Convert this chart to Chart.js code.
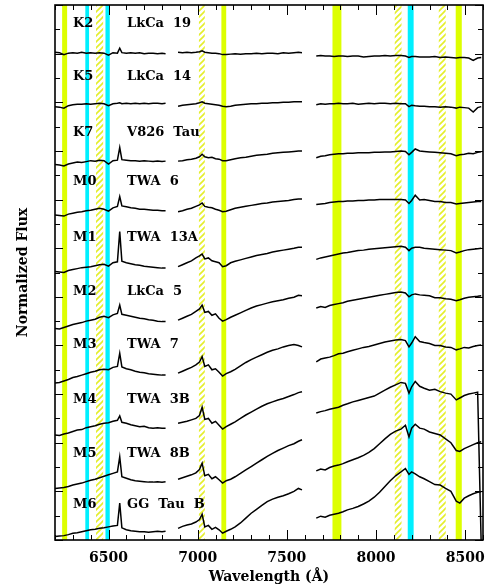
<!DOCTYPE html>
<html>
<head>
<meta charset="UTF-8">
<title>Spectra</title>
<script src="https://cdn.jsdelivr.net/npm/chart.js"></script>
<style>
  body { margin: 0; background: white; }
  #wrap { width: 497px; height: 588px; }
</style>
</head>
<body>
<div id="wrap"><canvas id="spec"></canvas></div>
<script>
// wavelength grids (Angstrom) for the three spectral segments
const waveLeft = [6200,6225,6250,6275,6300,6325,6350,6375,6400,6425,6450,6475,6500,6525,6550,6563,6575,6600,6625,6650,6675,6700,6725,6750,6775,6800,6820];
const waveMid = [6890,6915,6940,6965,6990,7010,7025,7040,7060,7080,7100,7120,7140,7160,7185,7210,7240,7270,7300,7330,7360,7390,7420,7450,7480,7510,7540,7565,7585];
const waveRight = [7665,7690,7715,7740,7765,7790,7815,7840,7870,7900,7930,7960,7990,8020,8050,8080,8110,8140,8165,8185,8200,8220,8245,8270,8300,8330,8360,8390,8420,8450,8470,8495,8520,8545,8570,8590];

const spTypes = ['K2','K5','K7','M0','M1','M2','M3','M4','M5','M6'];
const starNames = ['LkCa  19','LkCa  14','V826  Tau','TWA  6','TWA  13A','LkCa  5','TWA  7','TWA  3B','TWA  8B','GG  Tau  B'];
const offsets = [9,8,7,6,5,4,3,2,1,0];

// normalized flux, one row per star
const fluxLeft = [
  [1.03,1.02,0.98,1.01,1.02,1.01,1.03,1.01,1.02,1.01,1.02,1.01,0.97,1.02,1.01,1.11,1.02,1.01,1.02,1.01,1.02,1.00,1.01,1.01,1.00,1.01,1.00],
  [0.91,0.90,0.88,0.93,0.95,0.96,0.96,0.97,0.96,0.97,0.98,0.97,0.93,0.97,0.98,0.99,0.97,0.98,0.97,0.98,0.97,0.98,0.97,0.98,0.98,0.97,0.98],
  [0.72,0.71,0.69,0.73,0.75,0.77,0.76,0.78,0.80,0.79,0.81,0.80,0.73,0.80,0.81,1.07,0.82,0.81,0.80,0.80,0.79,0.80,0.79,0.78,0.79,0.78,0.79],
  [0.68,0.67,0.66,0.70,0.72,0.74,0.75,0.77,0.78,0.80,0.82,0.80,0.76,0.83,0.86,1.06,0.87,0.85,0.83,0.82,0.80,0.80,0.79,0.78,0.78,0.77,0.77],
  [0.52,0.51,0.50,0.54,0.56,0.58,0.60,0.61,0.62,0.64,0.66,0.67,0.63,0.70,0.72,1.34,0.73,0.70,0.68,0.66,0.65,0.63,0.62,0.61,0.60,0.59,0.59],
  [0.35,0.34,0.37,0.40,0.43,0.45,0.47,0.50,0.52,0.54,0.58,0.60,0.57,0.63,0.66,0.83,0.64,0.62,0.60,0.58,0.56,0.55,0.53,0.52,0.50,0.49,0.49],
  [0.23,0.24,0.27,0.30,0.34,0.36,0.39,0.42,0.45,0.47,0.50,0.51,0.50,0.55,0.57,0.84,0.56,0.52,0.50,0.47,0.45,0.44,0.42,0.41,0.40,0.39,0.39],
  [0.16,0.15,0.18,0.20,0.23,0.26,0.27,0.31,0.33,0.35,0.38,0.40,0.41,0.44,0.46,0.55,0.42,0.40,0.37,0.35,0.33,0.34,0.31,0.30,0.31,0.30,0.30],
  [0.06,0.07,0.08,0.10,0.13,0.15,0.17,0.20,0.23,0.25,0.28,0.31,0.34,0.37,0.40,0.71,0.30,0.27,0.24,0.22,0.21,0.20,0.19,0.19,0.20,0.19,0.20],
  [0.07,0.08,0.09,0.11,0.14,0.15,0.17,0.19,0.21,0.22,0.24,0.25,0.27,0.29,0.30,0.76,0.25,0.21,0.19,0.18,0.17,0.17,0.16,0.17,0.18,0.17,0.18]
];
const fluxMid = [
  [1.03,1.02,1.03,1.02,1.03,1.04,1.06,1.03,1.02,1.01,1.01,1.00,0.98,0.98,0.99,1.00,0.99,1.00,1.00,1.01,1.00,1.01,1.01,1.00,1.02,1.01,1.02,1.03,1.02],
  [0.92,0.94,0.95,0.96,0.97,0.99,1.01,0.98,0.97,0.96,0.95,0.94,0.92,0.91,0.92,0.94,0.95,0.96,0.97,0.97,0.98,0.98,0.99,0.99,1.00,1.00,1.01,1.01,1.01],
  [0.79,0.80,0.82,0.83,0.85,0.88,0.93,0.88,0.86,0.87,0.84,0.83,0.80,0.80,0.82,0.84,0.86,0.87,0.89,0.91,0.92,0.93,0.95,0.96,0.97,0.98,0.99,1.00,1.00],
  [0.75,0.77,0.80,0.82,0.86,0.89,0.93,0.86,0.84,0.83,0.80,0.78,0.75,0.76,0.79,0.82,0.84,0.86,0.88,0.90,0.92,0.93,0.95,0.96,0.97,0.98,1.00,1.01,1.01],
  [0.62,0.66,0.70,0.74,0.80,0.84,0.88,0.78,0.80,0.74,0.72,0.70,0.62,0.64,0.70,0.73,0.76,0.79,0.82,0.85,0.87,0.89,0.92,0.94,0.96,0.98,1.00,1.02,1.02],
  [0.52,0.56,0.60,0.64,0.70,0.75,0.83,0.68,0.70,0.62,0.65,0.56,0.50,0.53,0.58,0.62,0.67,0.72,0.77,0.81,0.84,0.87,0.90,0.92,0.94,0.97,0.99,1.03,1.02],
  [0.43,0.47,0.51,0.55,0.60,0.66,0.77,0.57,0.60,0.50,0.52,0.45,0.37,0.42,0.46,0.51,0.58,0.65,0.71,0.76,0.81,0.86,0.90,0.93,0.97,1.00,1.02,1.00,0.97],
  [0.40,0.42,0.44,0.47,0.50,0.56,0.73,0.48,0.50,0.40,0.44,0.36,0.28,0.33,0.38,0.43,0.50,0.57,0.63,0.69,0.75,0.80,0.84,0.88,0.91,0.95,0.99,1.03,1.05],
  [0.25,0.28,0.31,0.34,0.38,0.45,0.58,0.32,0.35,0.26,0.30,0.24,0.17,0.22,0.25,0.30,0.37,0.44,0.51,0.58,0.65,0.72,0.78,0.84,0.89,0.94,0.98,1.03,1.06],
  [0.24,0.28,0.31,0.33,0.37,0.42,0.53,0.27,0.30,0.22,0.26,0.21,0.14,0.18,0.22,0.27,0.35,0.45,0.55,0.63,0.71,0.79,0.84,0.88,0.91,0.95,1.00,1.06,1.03]
];
const fluxRight = [
  [0.95,0.96,0.95,0.95,0.94,0.95,0.95,0.94,0.95,0.95,0.93,0.94,0.95,0.95,0.96,0.95,0.96,0.96,0.95,0.92,0.94,0.94,0.93,0.93,0.93,0.94,0.92,0.93,0.92,0.91,0.92,0.92,0.91,0.86,0.91,0.92],
  [0.95,0.97,0.96,0.97,0.97,0.98,0.97,0.97,0.98,0.96,0.97,0.98,0.97,0.98,0.98,0.97,0.98,0.97,0.97,0.91,0.94,0.93,0.92,0.92,0.91,0.91,0.90,0.91,0.90,0.88,0.90,0.89,0.88,0.80,0.89,0.91],
  [0.86,0.89,0.90,0.92,0.93,0.94,0.94,0.95,0.95,0.96,0.96,0.96,0.97,0.97,0.98,0.98,0.99,1.00,0.99,0.92,0.97,1.04,1.00,0.99,0.98,0.97,0.96,0.95,0.94,0.90,0.92,0.93,0.95,0.94,0.97,0.98],
  [0.90,0.91,0.92,0.94,0.95,0.96,0.96,0.97,0.97,0.98,0.98,0.99,0.99,1.00,1.00,1.00,1.00,1.00,0.99,0.92,0.98,1.09,0.99,1.00,0.98,0.96,0.96,0.94,0.94,0.91,0.92,0.93,0.94,0.95,0.96,0.96],
  [0.77,0.80,0.82,0.84,0.86,0.88,0.90,0.91,0.93,0.95,0.96,0.98,0.99,1.00,1.01,1.02,1.03,1.04,1.02,0.95,1.00,1.02,1.02,1.00,0.99,0.98,0.97,0.96,0.95,0.90,0.92,0.95,0.97,0.98,0.99,1.00],
  [0.77,0.80,0.78,0.82,0.84,0.86,0.88,0.91,0.93,0.95,0.97,0.99,1.01,1.03,1.05,1.07,1.09,1.10,1.08,1.00,1.04,1.06,1.04,1.03,1.02,0.98,0.98,0.96,0.95,0.92,0.94,0.97,0.99,1.00,1.01,1.02],
  [0.66,0.72,0.74,0.76,0.79,0.83,0.84,0.87,0.90,0.93,0.96,0.98,1.01,1.04,1.07,1.09,1.11,1.12,1.10,0.97,1.05,1.18,1.08,1.06,1.04,1.00,1.00,0.97,0.96,0.91,0.93,0.96,0.95,0.98,1.00,1.01],
  [0.61,0.64,0.66,0.69,0.71,0.73,0.77,0.80,0.84,0.87,0.90,0.93,0.96,1.02,1.08,1.14,1.19,1.24,1.22,1.02,1.15,1.26,1.16,1.12,1.08,1.10,1.05,1.02,1.00,0.88,0.92,0.97,1.00,1.02,1.04,-2.10],
  [0.42,0.46,0.44,0.49,0.52,0.54,0.57,0.61,0.65,0.69,0.74,0.80,0.88,0.98,1.08,1.17,1.24,1.28,1.36,1.12,1.30,1.38,1.30,1.28,1.22,1.19,1.16,1.08,1.00,0.84,0.82,0.88,0.92,0.96,1.00,1.02],
  [0.45,0.49,0.47,0.51,0.53,0.55,0.58,0.62,0.65,0.69,0.74,0.80,0.88,0.98,1.10,1.22,1.32,1.40,1.47,1.35,1.40,1.36,1.30,1.26,1.20,1.14,1.13,1.06,1.00,0.80,0.76,0.86,0.91,0.95,0.98,0.99]
];

// feature bands (Angstrom)
const solidBands = [[6240,6268],[7133,7160],[7756,7806],[8447,8481]];
const cyanBands = [[6370,6391],[6483,6507],[8178,8211]];
const hatchBands = [[6430,6470],[7007,7040],[8105,8143],[8352,8391]];

const serif = "'DejaVu Serif', serif";

function seg(waves, fl, off) {
  return waves.map((w, i) => ({ x: w, y: fl[i] + off }));
}

const datasets = spTypes.map((t, k) => ({
  label: t,
  data: [].concat(
    seg(waveLeft, fluxLeft[k], offsets[k]), [{ x: 6855, y: null }],
    seg(waveMid, fluxMid[k], offsets[k]), [{ x: 7625, y: null }],
    seg(waveRight, fluxRight[k], offsets[k])
  ),
  borderColor: 'black',
  borderWidth: 1.5,
  pointRadius: 0,
  tension: 0,
  spanGaps: false
}));

function hatchPattern(ctx) {
  const c = document.createElement('canvas');
  c.width = 6; c.height = 6;
  const g = c.getContext('2d');
  g.fillStyle = 'white';
  g.fillRect(0, 0, 6, 6);
  g.strokeStyle = '#e4ee2a';
  g.lineWidth = 1.6;
  g.beginPath();
  g.moveTo(0, 6); g.lineTo(6, 0);
  g.moveTo(-3, 3); g.lineTo(3, -3);
  g.moveTo(3, 9); g.lineTo(9, 3);
  g.stroke();
  return ctx.createPattern(c, 'repeat');
}

const bandsPlugin = {
  id: 'bands',
  beforeDatasetsDraw(chart) {
    const { ctx, chartArea: a, scales: { x } } = chart;
    ctx.save();
    const fill = (list, style) => {
      ctx.fillStyle = style;
      list.forEach(b => {
        const x0 = x.getPixelForValue(b[0]), x1 = x.getPixelForValue(b[1]);
        ctx.fillRect(x0, a.top, x1 - x0, a.bottom - a.top);
      });
    };
    fill(solidBands, '#ddff00');
    fill(cyanBands, '#00f0ff');
    fill(hatchBands, hatchPattern(ctx));
    ctx.restore();
  }
};

const framePlugin = {
  id: 'frame',
  afterDatasetsDraw(chart) {
    const { ctx, chartArea: a, scales: { x, y } } = chart;
    ctx.save();
    ctx.strokeStyle = 'black';
    ctx.lineWidth = 1;
    ctx.beginPath();
    x.ticks.forEach(t => {
      const px = Math.round(x.getPixelForValue(t.value)) + 0.5;
      const len = t.value % 500 === 0 ? 10 : 5;
      ctx.moveTo(px, a.bottom); ctx.lineTo(px, a.bottom - len);
      ctx.moveTo(px, a.top); ctx.lineTo(px, a.top + len);
    });
    y.ticks.forEach(t => {
      const py = Math.round(y.getPixelForValue(t.value)) + 0.5;
      const len = Number.isInteger(t.value) ? 8 : 5;
      ctx.moveTo(a.left, py); ctx.lineTo(a.left + len, py);
      ctx.moveTo(a.right, py); ctx.lineTo(a.right - len, py);
    });
    ctx.stroke();
    ctx.lineWidth = 1.6;
    ctx.strokeRect(a.left, a.top, a.right - a.left, a.bottom - a.top);

    // star labels
    ctx.fillStyle = 'black';
    ctx.font = 'bold 13px ' + serif;
    ctx.textBaseline = 'middle';
    ctx.textAlign = 'left';
    const labelLift = [1.61, 1.52, 1.37, 1.36, 1.21, 1.10, 1.01, 0.88, 0.77, 0.72];
    spTypes.forEach((t, k) => {
      const py = y.getPixelForValue(offsets[k] + labelLift[k]);
      ctx.fillText(t, x.getPixelForValue(6301), py);
      ctx.fillText(starNames[k], x.getPixelForValue(6604), py);
    });
    ctx.restore();
  }
};

new Chart(document.getElementById('spec'), {
  type: 'line',
  data: { datasets },
  options: {
    responsive: true,
    maintainAspectRatio: false,
    animation: false,
    layout: { padding: { top: 5, right: 14, left: 0, bottom: 0 } },
    plugins: { legend: { display: false }, tooltip: { enabled: false } },
    scales: {
      x: {
        type: 'linear',
        min: 6200,
        max: 8600,
        grid: { display: false, drawTicks: false },
        border: { display: false },
        ticks: {
          stepSize: 100,
          autoSkip: false,
          maxRotation: 0,
          padding: 10,
          color: 'black',
          font: { family: serif, size: 14, weight: 'bold' },
          callback: v => (v % 500 === 0 ? v : '')
        },
        title: {
          display: true,
          text: 'Wavelength (Å)',
          color: 'black',
          font: { family: serif, size: 14, weight: 'bold' },
          padding: { top: 0, bottom: 2 }
        },
        afterFit: s => { s.height = 48; }
      },
      y: {
        min: 0,
        max: 11,
        grid: { display: false, drawTicks: false },
        border: { display: false },
        ticks: { stepSize: 0.5, display: false },
        title: {
          display: true,
          text: 'Normalized Flux',
          color: 'black',
          font: { family: serif, size: 14, weight: 'bold' },
          padding: { top: 15, bottom: 0 }
        },
        afterFit: s => { s.width = 55; }
      }
    }
  },
  plugins: [bandsPlugin, framePlugin]
});
</script>
</body>
</html>
